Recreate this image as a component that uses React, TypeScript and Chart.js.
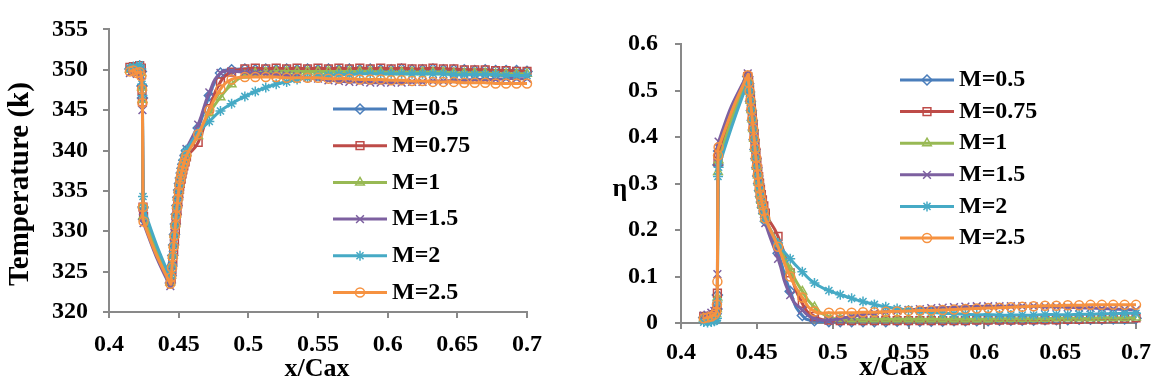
import React, { useEffect, useRef } from "react";
import { Chart, registerables } from "chart.js";
import { drawPoint } from "chart.js/helpers";

Chart.register(...registerables);

// Axial position along the blade (x/Cax), shared by both plots
const xCax = [
  0.4150, 0.4175, 0.4200, 0.4220, 0.4232,
  0.4237, 0.4240, 0.4244, 0.4248,
  0.4440, 0.4446, 0.4452, 0.4458, 0.4464, 0.4470, 0.4476, 0.4482, 0.4488, 0.4494,
  0.4500, 0.4506, 0.4512, 0.4518, 0.4524, 0.4530, 0.4537, 0.4546, 0.4556,
  0.4640, 0.4720, 0.4800, 0.4880,
  0.4975, 0.5050, 0.5125, 0.5200, 0.5275, 0.5350, 0.5425, 0.5500, 0.5575, 0.5650,
  0.5725, 0.5800, 0.5875, 0.5950, 0.6025, 0.6100, 0.6175, 0.6250, 0.6325, 0.6400,
  0.6475, 0.6550, 0.6625, 0.6700, 0.6775, 0.6850, 0.6925, 0.7000,
];

const seriesLabels = ["M=0.5", "M=0.75", "M=1", "M=1.5", "M=2", "M=2.5"];

// Wall temperature (K) per blowing ratio
const tempM05 = [
  350.1, 350.2, 350.0, 350.1, 349.8,
  348.0, 346.5, 333.0, 331.5,
  323.6, 324.5, 325.7, 327.0, 328.3, 329.6, 330.9, 332.1, 333.2, 334.2,
  335.1, 335.9, 336.6, 337.2, 337.8, 338.3, 338.8, 339.4, 340.0,
  342.8, 346.8, 349.6, 350.0,
  350.1, 350.0, 350.1, 350.0, 350.1, 350.0, 350.1, 350.0, 350.1, 350.0,
  350.1, 350.0, 350.1, 350.0, 350.0, 350.1, 350.0, 350.0, 350.1, 350.0,
  350.0, 350.0, 349.9, 350.0, 349.9, 349.9, 349.9, 349.8,
];
const tempM075 = [
  350.3, 350.4, 350.2, 350.5, 350.2,
  347.4, 346.0, 333.0, 331.8,
  323.8, 324.2, 325.2, 326.4, 327.6, 328.9, 330.2, 331.4, 332.5, 333.5,
  334.4, 335.2, 335.9, 336.5, 337.1, 337.6, 338.1, 338.6, 339.2,
  341.0, 345.2, 348.5, 349.7,
  350.1, 350.2, 350.1, 350.2, 350.1, 350.2, 350.1, 350.2, 350.1, 350.2,
  350.1, 350.2, 350.1, 350.2, 350.1, 350.2, 350.1, 350.1, 350.2, 350.1,
  350.1, 350.0, 350.0, 350.0, 349.9, 349.9, 349.8, 349.8,
];
const tempM1 = [
  350.0, 350.1, 349.9, 350.0, 349.6,
  347.8, 346.3, 333.2, 331.9,
  323.7, 324.5, 325.7, 327.0, 328.3, 329.6, 330.9, 332.1, 333.2, 334.2,
  335.1, 335.9, 336.6, 337.2, 337.7, 338.2, 338.6, 339.1, 339.7,
  341.8, 344.6, 346.6, 348.2,
  349.3, 349.6, 349.7, 349.8, 349.8, 349.8, 349.8, 349.8, 349.8, 349.8,
  349.8, 349.8, 349.8, 349.7, 349.7, 349.7, 349.7, 349.7, 349.7, 349.7,
  349.6, 349.6, 349.6, 349.6, 349.5, 349.5, 349.5, 349.5,
];
const tempM15 = [
  349.6, 349.8, 349.5, 349.9, 349.3,
  348.5, 345.0, 332.5, 331.0,
  323.2, 324.4, 325.7, 327.1, 328.5, 329.8, 331.1, 332.3, 333.4, 334.4,
  335.3, 336.1, 336.8, 337.4, 337.9, 338.4, 338.9, 339.5, 340.2,
  343.2, 347.2, 349.6, 349.8,
  349.7, 349.6, 349.5, 349.4, 349.3, 349.2, 349.0, 348.9, 348.7, 348.6,
  348.5, 348.5, 348.4, 348.4, 348.4, 348.4, 348.5, 348.5, 348.6, 348.6,
  348.7, 348.7, 348.8, 348.8, 348.8, 348.9, 348.9, 348.9,
];
const tempM2 = [
  350.2, 350.4, 350.3, 350.6, 350.1,
  348.2, 346.8, 334.3, 332.9,
  324.2, 324.9, 325.9, 327.1, 328.3, 329.5, 330.7, 331.8, 332.9, 333.9,
  334.8, 335.7, 336.5, 337.2, 337.8, 338.4, 338.9, 339.5, 340.1,
  342.2, 343.6, 344.9, 345.8,
  346.7, 347.3, 347.8, 348.2, 348.5, 348.8, 349.0, 349.2, 349.3, 349.4,
  349.4, 349.5, 349.5, 349.5, 349.5, 349.5, 349.5, 349.5, 349.5, 349.5,
  349.4, 349.4, 349.4, 349.4, 349.4, 349.3, 349.3, 349.3,
];
const tempM25 = [
  349.8, 349.9, 349.6, 349.7, 349.2,
  347.6, 345.9, 333.0, 331.2,
  323.5, 324.3, 325.5, 326.8, 328.1, 329.4, 330.7, 331.9, 333.0, 334.0,
  334.9, 335.7, 336.4, 337.0, 337.5, 338.0, 338.4, 338.9, 339.4,
  342.0, 345.0, 347.6, 348.8,
  349.1, 349.1, 349.1, 349.1, 349.0, 349.0, 349.0, 349.0, 348.9, 348.9,
  348.9, 348.8, 348.8, 348.8, 348.7, 348.7, 348.6, 348.6, 348.5, 348.5,
  348.5, 348.4, 348.4, 348.4, 348.3, 348.3, 348.3, 348.3,
];

// Film cooling effectiveness (eta) per blowing ratio
const etaM05 = [
  0.012, 0.010, 0.014, 0.016, 0.020,
  0.030, 0.060, 0.340, 0.370,
  0.530, 0.515, 0.497, 0.477, 0.457, 0.436, 0.415, 0.394, 0.373, 0.353,
  0.334, 0.316, 0.300, 0.285, 0.272, 0.260, 0.249, 0.236, 0.219,
  0.150, 0.068, 0.016, 0.005,
  0.003, 0.003, 0.003, 0.003, 0.003, 0.003, 0.004, 0.004, 0.004, 0.004,
  0.004, 0.005, 0.005, 0.005, 0.005, 0.006, 0.006, 0.006, 0.006, 0.007,
  0.007, 0.007, 0.008, 0.008, 0.008, 0.009, 0.009, 0.010,
];
const etaM075 = [
  0.014, 0.012, 0.015, 0.018, 0.024,
  0.035, 0.064, 0.347, 0.365,
  0.530, 0.520, 0.503, 0.484, 0.465, 0.446, 0.426, 0.406, 0.386, 0.367,
  0.348, 0.331, 0.315, 0.301, 0.288, 0.276, 0.265, 0.252, 0.236,
  0.186, 0.108, 0.042, 0.014,
  0.006, 0.005, 0.005, 0.005, 0.005, 0.005, 0.005, 0.005, 0.005, 0.005,
  0.005, 0.005, 0.005, 0.006, 0.006, 0.006, 0.006, 0.006, 0.007, 0.007,
  0.007, 0.008, 0.008, 0.009, 0.009, 0.010, 0.010, 0.011,
];
const etaM1 = [
  0.010, 0.009, 0.012, 0.015, 0.020,
  0.030, 0.055, 0.325, 0.350,
  0.528, 0.516, 0.498, 0.478, 0.458, 0.438, 0.417, 0.396, 0.375, 0.355,
  0.336, 0.318, 0.302, 0.288, 0.275, 0.263, 0.252, 0.240, 0.224,
  0.170, 0.115, 0.068, 0.034,
  0.013, 0.009, 0.008, 0.008, 0.008, 0.008, 0.008, 0.008, 0.008, 0.008,
  0.008, 0.008, 0.008, 0.008, 0.008, 0.009, 0.009, 0.009, 0.009, 0.009,
  0.010, 0.010, 0.010, 0.010, 0.011, 0.011, 0.011, 0.012,
];
const etaM15 = [
  0.016, 0.018, 0.022, 0.026, 0.032,
  0.040, 0.105, 0.345, 0.390,
  0.537, 0.520, 0.502, 0.482, 0.462, 0.441, 0.420, 0.399, 0.378, 0.358,
  0.338, 0.319, 0.302, 0.287, 0.273, 0.260, 0.248, 0.234, 0.215,
  0.138, 0.060, 0.028, 0.010,
  0.006, 0.010, 0.014, 0.018, 0.021, 0.024, 0.026, 0.028, 0.030, 0.032,
  0.033, 0.034, 0.035, 0.036, 0.036, 0.036, 0.036, 0.036, 0.036, 0.035,
  0.035, 0.034, 0.033, 0.032, 0.031, 0.030, 0.029, 0.028,
];
const etaM2 = [
  0.002, 0.001, 0.002, 0.004, 0.006,
  0.010, 0.045, 0.315, 0.335,
  0.518, 0.510, 0.494, 0.475, 0.456, 0.436, 0.415, 0.394, 0.373, 0.353,
  0.334, 0.316, 0.299, 0.284, 0.271, 0.259, 0.248, 0.236, 0.222,
  0.172, 0.138, 0.110, 0.086,
  0.070, 0.061, 0.053, 0.046, 0.040, 0.035, 0.031, 0.028, 0.025, 0.023,
  0.021, 0.020, 0.019, 0.018, 0.018, 0.017, 0.017, 0.017, 0.017, 0.018,
  0.018, 0.018, 0.019, 0.019, 0.020, 0.020, 0.021, 0.021,
];
const etaM25 = [
  0.010, 0.012, 0.014, 0.018, 0.024,
  0.040, 0.089, 0.360, 0.378,
  0.533, 0.517, 0.499, 0.479, 0.459, 0.439, 0.418, 0.397, 0.376, 0.356,
  0.337, 0.319, 0.303, 0.289, 0.276, 0.264, 0.253, 0.241, 0.225,
  0.164, 0.100, 0.055, 0.025,
  0.022, 0.022, 0.022, 0.023, 0.023, 0.024, 0.025, 0.026, 0.027, 0.027,
  0.028, 0.029, 0.030, 0.031, 0.032, 0.033, 0.034, 0.035, 0.036, 0.037,
  0.037, 0.038, 0.038, 0.039, 0.039, 0.039, 0.039, 0.039,
];

const xTicks = [0.4, 0.45, 0.5, 0.55, 0.6, 0.65, 0.7];
const tempTicks = [320, 325, 330, 335, 340, 345, 350, 355];
const etaTicks = [0, 0.1, 0.2, 0.3, 0.4, 0.5, 0.6];

const tempSeries = [tempM05, tempM075, tempM1, tempM15, tempM2, tempM25];
const etaSeries = [etaM05, etaM075, etaM1, etaM15, etaM2, etaM25];

const SERIF = '"Times New Roman", "Liberation Serif", serif';
const AXIS_GREY = "#898989";

const seriesLook = [
  { color: "#4A7EBB", pointStyle: "rectRot", radius: 5 },
  { color: "#BE4B48", pointStyle: "rect", radius: 5.5 },
  { color: "#98B954", pointStyle: "triangle", radius: 5 },
  { color: "#7D60A0", pointStyle: "crossRot", radius: 5.5 },
  { color: "#46AAC5", pointStyle: "star", radius: 5 },
  { color: "#F69240", pointStyle: "circle", radius: 4.5 },
];

const fmtTick = (v: number | string) => String(+Number(v).toFixed(2));

// Legend drawn as line + marker + label, the way the spreadsheet style shows it
const seriesKey = {
  id: "seriesKey",
  afterDraw(chart: any, _args: any, opts: any) {
    const { ctx } = chart;
    ctx.save();
    chart.data.datasets.forEach((ds: any, i: number) => {
      const y = opts.top + i * opts.rowHeight;
      const x0 = opts.left;
      const x1 = opts.left + opts.lineLength;
      ctx.strokeStyle = ds.borderColor;
      ctx.lineWidth = ds.borderWidth;
      ctx.lineCap = "butt";
      ctx.beginPath();
      ctx.moveTo(x0, y);
      ctx.lineTo(x1, y);
      ctx.stroke();
      ctx.fillStyle = "rgba(0,0,0,0)";
      ctx.lineWidth = ds.pointBorderWidth;
      drawPoint(
        ctx,
        { pointStyle: ds.pointStyle, radius: ds.pointRadius, rotation: 0, borderWidth: ds.pointBorderWidth } as any,
        (x0 + x1) / 2,
        y
      );
      ctx.fillStyle = "#000";
      ctx.font = `bold ${opts.fontSize}px ${SERIF}`;
      ctx.textAlign = "left";
      ctx.textBaseline = "middle";
      ctx.fillText(ds.label, x1 + opts.gap, y);
    });
    ctx.restore();
  },
};

// Axis captions placed freely around the plot
const captions = {
  id: "captions",
  afterDraw(chart: any, _args: any, opts: any) {
    const { ctx } = chart;
    (opts.items || []).forEach((c: any) => {
      ctx.save();
      ctx.translate(c.x, c.y);
      ctx.rotate(c.rotation || 0);
      ctx.font = `bold ${c.size}px ${SERIF}`;
      ctx.fillStyle = "#000";
      ctx.textAlign = "center";
      ctx.textBaseline = c.baseline || "alphabetic";
      ctx.fillText(c.text, 0, 0);
      ctx.restore();
    });
  },
};

function buildDatasets(values: number[][], tension: number) {
  return seriesLabels.map((label, i) => {
    const look = seriesLook[i];
    return {
      label,
      data: xCax.map((x, k) => ({ x, y: values[i][k] })),
      borderColor: look.color,
      backgroundColor: "rgba(0,0,0,0)",
      borderWidth: 3,
      pointStyle: look.pointStyle,
      pointRadius: look.radius,
      pointBorderWidth: 1.5,
      pointBorderColor: look.color,
      pointBackgroundColor: "rgba(0,0,0,0)",
      tension,
      clip: false,
      order: seriesLabels.length - 1 - i,
    };
  });
}

function axisScale(ticks: number[], min: number, max: number, pad: number, fit: (s: any) => void) {
  return {
    type: "linear",
    min,
    max,
    afterBuildTicks: (s: any) => {
      s.ticks = ticks.map((value) => ({ value }));
    },
    afterFit: fit,
    ticks: {
      font: { family: SERIF, size: 24, weight: "bold" },
      color: "#000",
      padding: pad,
      autoSkip: false,
      maxRotation: 0,
      callback: fmtTick,
    },
    grid: { drawOnChartArea: false, drawTicks: true, tickLength: 6, color: AXIS_GREY, lineWidth: 2 },
    border: { display: true, color: AXIS_GREY, width: 2 },
  };
}

function makeChart(canvas: HTMLCanvasElement, cfg: any) {
  return new Chart(canvas, {
    type: "line",
    data: { datasets: buildDatasets(cfg.values, cfg.tension) },
    options: {
      responsive: false,
      maintainAspectRatio: false,
      animation: false,
      devicePixelRatio: 1,
      events: [],
      layout: { padding: cfg.padding },
      scales: {
        x: axisScale(xTicks, 0.4, 0.7, cfg.xPad, (s: any) => {
          s.height = cfg.xHeight;
        }),
        y: axisScale(cfg.yTicks, cfg.yMin, cfg.yMax, cfg.yPad, (s: any) => {
          s.width = cfg.yWidth;
        }),
      },
      plugins: {
        legend: { display: false },
        tooltip: { enabled: false },
        seriesKey: cfg.key,
        captions: { items: cfg.captions },
      } as any,
    } as any,
    plugins: [seriesKey, captions],
  });
}

export default function App() {
  const leftRef = useRef<HTMLCanvasElement>(null);
  const rightRef = useRef<HTMLCanvasElement>(null);

  useEffect(() => {
    const left = makeChart(leftRef.current!, {
      values: tempSeries,
      tension: 0.5,
      yTicks: tempTicks,
      yMin: 320,
      yMax: 355,
      padding: { top: 19, right: 53, left: 0, bottom: 0 },
      xHeight: 76,
      yWidth: 109,
      xPad: 12,
      yPad: 15,
      key: { left: 333, lineLength: 54, gap: 5, top: 109, rowHeight: 36.7, fontSize: 24 },
      captions: [
        { text: "Temperature (k)", x: 21, y: 184, size: 29, rotation: -Math.PI / 2, baseline: "middle" },
        { text: "x/Cax", x: 317, y: 376, size: 26 },
      ],
    });
    const right = makeChart(rightRef.current!, {
      values: etaSeries,
      tension: 0.6,
      yTicks: etaTicks,
      yMin: 0,
      yMax: 0.6,
      padding: { top: 44, right: 19, left: 0, bottom: 0 },
      xHeight: 65,
      yWidth: 101,
      xPad: 9,
      yPad: 17,
      key: { left: 320, lineLength: 54, gap: 5, top: 80, rowHeight: 31.6, fontSize: 24 },
      captions: [
        { text: "\u03b7", x: 40, y: 196, size: 26 },
        { text: "x/Cax", x: 313, y: 375, size: 27 },
      ],
    });
    return () => {
      left.destroy();
      right.destroy();
    };
  }, []);

  return (
    <div style={{ position: "absolute", left: 0, top: 0, width: 1160, height: 388, background: "#fff" }}>
      <canvas ref={leftRef} width={580} height={388} style={{ position: "absolute", left: 0, top: 0 }} />
      <canvas ref={rightRef} width={580} height={388} style={{ position: "absolute", left: 580, top: 0 }} />
    </div>
  );
}
